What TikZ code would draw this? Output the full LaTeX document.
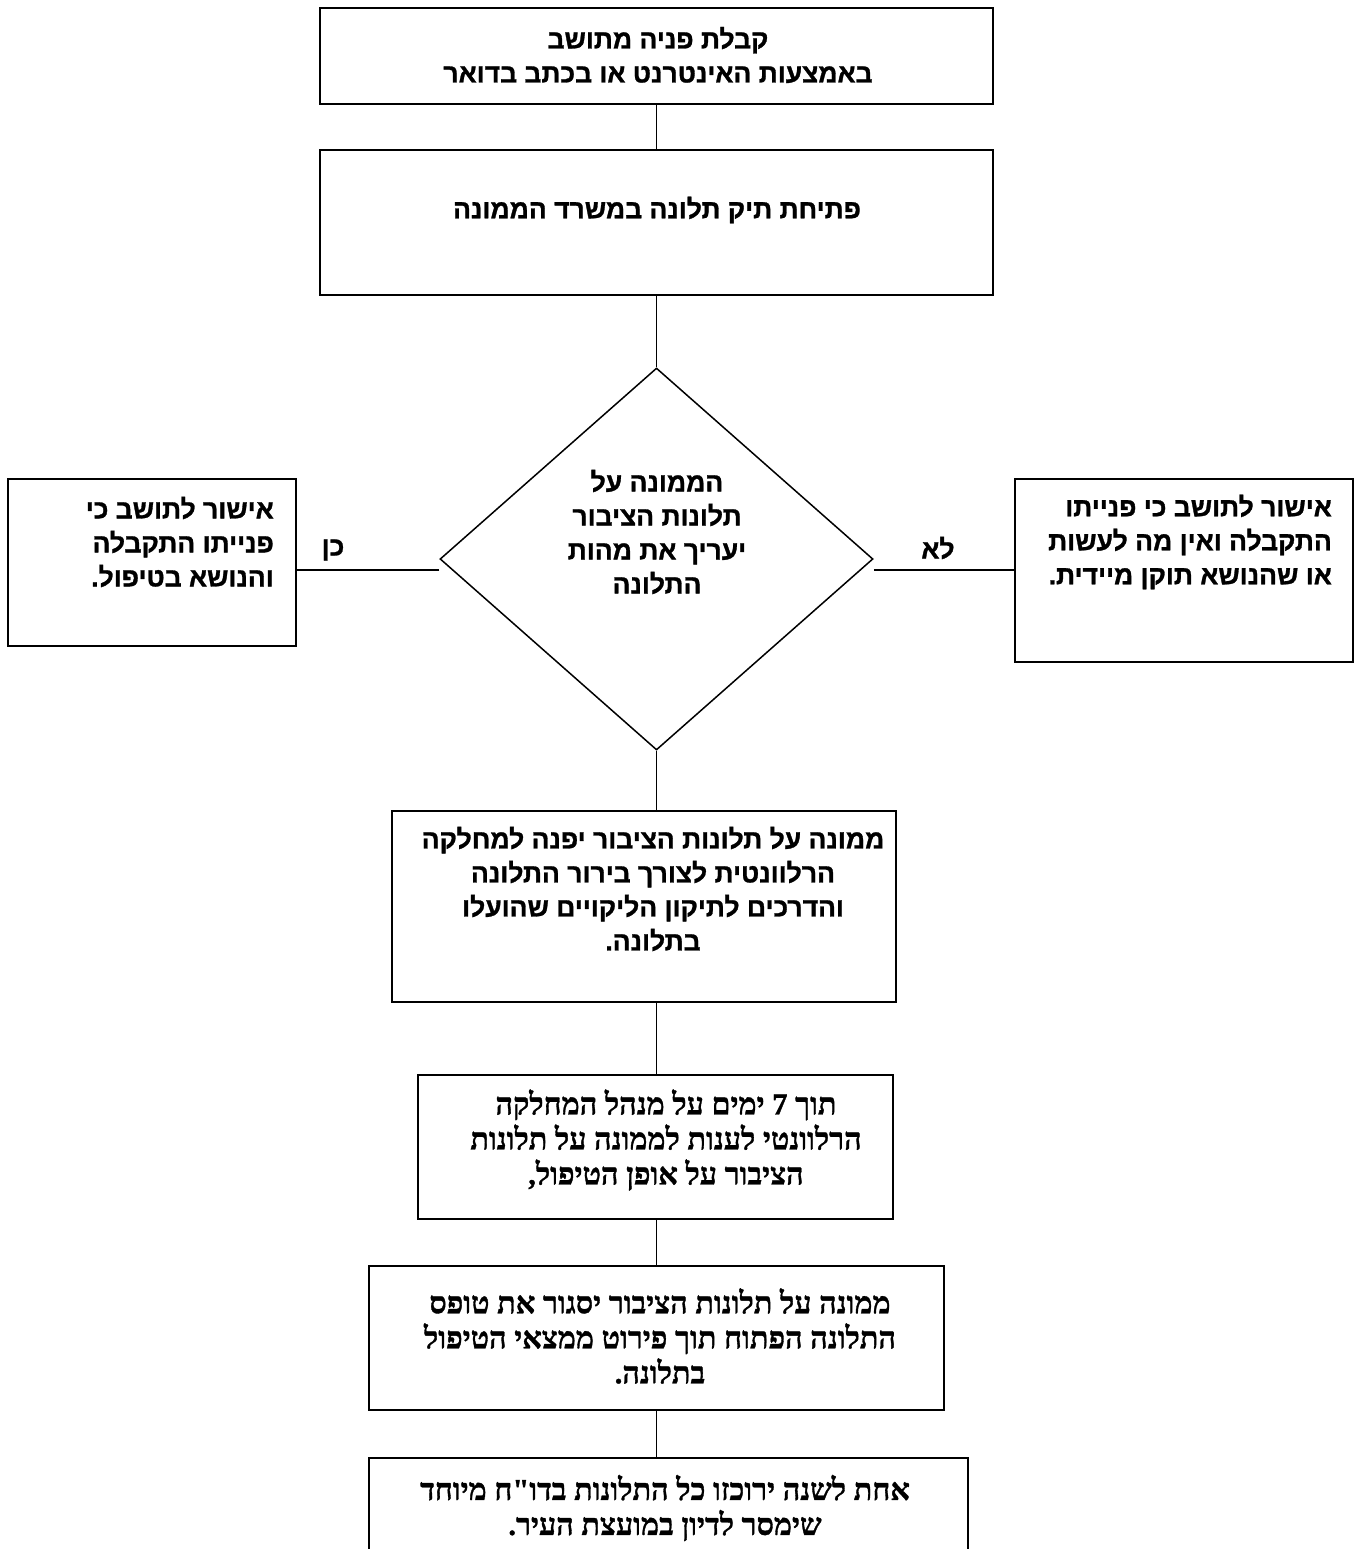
\documentclass[tikz,border=0pt]{standalone}
\usepackage{fontspec}
\usetikzlibrary{shapes.geometric}
\TeXXeTstate=1
\newfontfamily\hebsans[Script=Hebrew, FakeBold=1.1]{Liberation Sans Bold}
\newfontfamily\hebserif[Script=Hebrew, FakeBold=1.1]{Liberation Serif Bold}
\newcommand{\rl}[1]{\beginR #1\endR}
\begin{document}
\begin{tikzpicture}[x=1pt,y=-1pt,
  box/.style={draw, line width=1.8pt, inner sep=0pt},
  dia/.style={draw, diamond, line width=1.5pt, inner sep=0pt},
  conn/.style={line width=1.5pt},
  st/.style={font=\hebsans\fontsize{26.5}{34}\selectfont, align=center, inner sep=0pt},
  sr/.style={font=\hebserif\fontsize{30.5}{35}\selectfont, align=center, inner sep=0pt}]
\clip (0,0) rectangle (1356,1549);
\fill[white] (0,0) rectangle (1356,1549);

% boxes
\node[box, minimum width=673pt, minimum height=96pt] (b1) at (656.5,56) {};
\node[box, minimum width=673pt, minimum height=145pt] (b2) at (656.5,222.5) {};
\node[dia, minimum width=433pt, minimum height=382pt] (d) at (656.5,559) {};
\node[box, minimum width=288pt, minimum height=167pt] (lb) at (152,562.5) {};
\node[box, minimum width=338pt, minimum height=183pt] (rb) at (1184,570.5) {};
\node[box, minimum width=504pt, minimum height=191pt] (b3) at (644,906.5) {};
\node[box, minimum width=475pt, minimum height=144pt] (b4) at (655.5,1147) {};
\node[box, minimum width=575pt, minimum height=144pt] (b5) at (656.5,1338) {};
\node[box, minimum width=599pt, minimum height=122pt] (b6) at (668.5,1519) {};

% connectors
\draw[conn] (b1.south) -- (b2.north);
\draw[conn] (b2.south) -- (d.north);
\draw[conn] (d.south) -- (d.south |- b3.north);
\draw[conn] (b3.south -| d.south) -- (b4.north -| d.south);
\draw[conn] (b4.south -| d.south) -- (b5.north -| d.south);
\draw[conn] (b5.south -| d.south) -- (b6.north -| d.south);
\coordinate (kl) at ([yshift=-11pt]d.west);
\coordinate (kr) at ([yshift=-11pt]d.east);
\draw[conn] (kl) -- (kl -| lb.east);
\draw[conn] (kr) -- (kr -| rb.west);

% texts
\node[st] (t1) at (658,55) {\rl{קבלת פניה מתושב}\\\rl{באמצעות האינטרנט או בכתב בדואר}};
\node[st] (t2) at (657,210) {\rl{פתיחת תיק תלונה במשרד הממונה}};
\node[st] (td) at (657,532) {\rl{הממונה על}\\\rl{תלונות הציבור}\\\rl{יעריך את מהות}\\\rl{התלונה}};
\node[st, align=right, anchor=east] (tl) at (274,542) {\rl{אישור לתושב כי}\\\rl{פנייתו התקבלה}\\\rl{והנושא בטיפול.}};
\node[st, align=right, anchor=east] (tr) at (1332,542) {\rl{אישור לתושב כי פנייתו}\\\rl{התקבלה ואין מה לעשות}\\\rl{או שהנושא תוקן מיידית.}};
\node[st] (ken) at (333,550) {\rl{כן}};
\node[st] (lo) at (938,548) {\rl{לא}};
\node[st] (t3) at (653,889) {\rl{ממונה על תלונות הציבור יפנה למחלקה}\\\rl{הרלוונטית לצורך בירור התלונה}\\\rl{והדרכים לתיקון הליקויים שהועלו}\\\rl{בתלונה.}};
\node[sr] (t4) at (666,1140) {\rl{תוך 7 ימים על מנהל המחלקה}\\\rl{הרלוונטי לענות לממונה על תלונות}\\\rl{הציבור על אופן הטיפול,}};
\node[sr] (t5) at (660,1336) {\rl{ממונה על תלונות הציבור יסגור את טופס}\\\rl{התלונה הפתוח תוך פירוט ממצאי הטיפול}\\\rl{בתלונה.}};
\node[sr] (t6) at (665,1508) {\rl{אחת לשנה ירוכזו כל התלונות בדו"ח מיוחד}\\\rl{שימסר לדיון במועצת העיר.}};
\end{tikzpicture}
\end{document}
